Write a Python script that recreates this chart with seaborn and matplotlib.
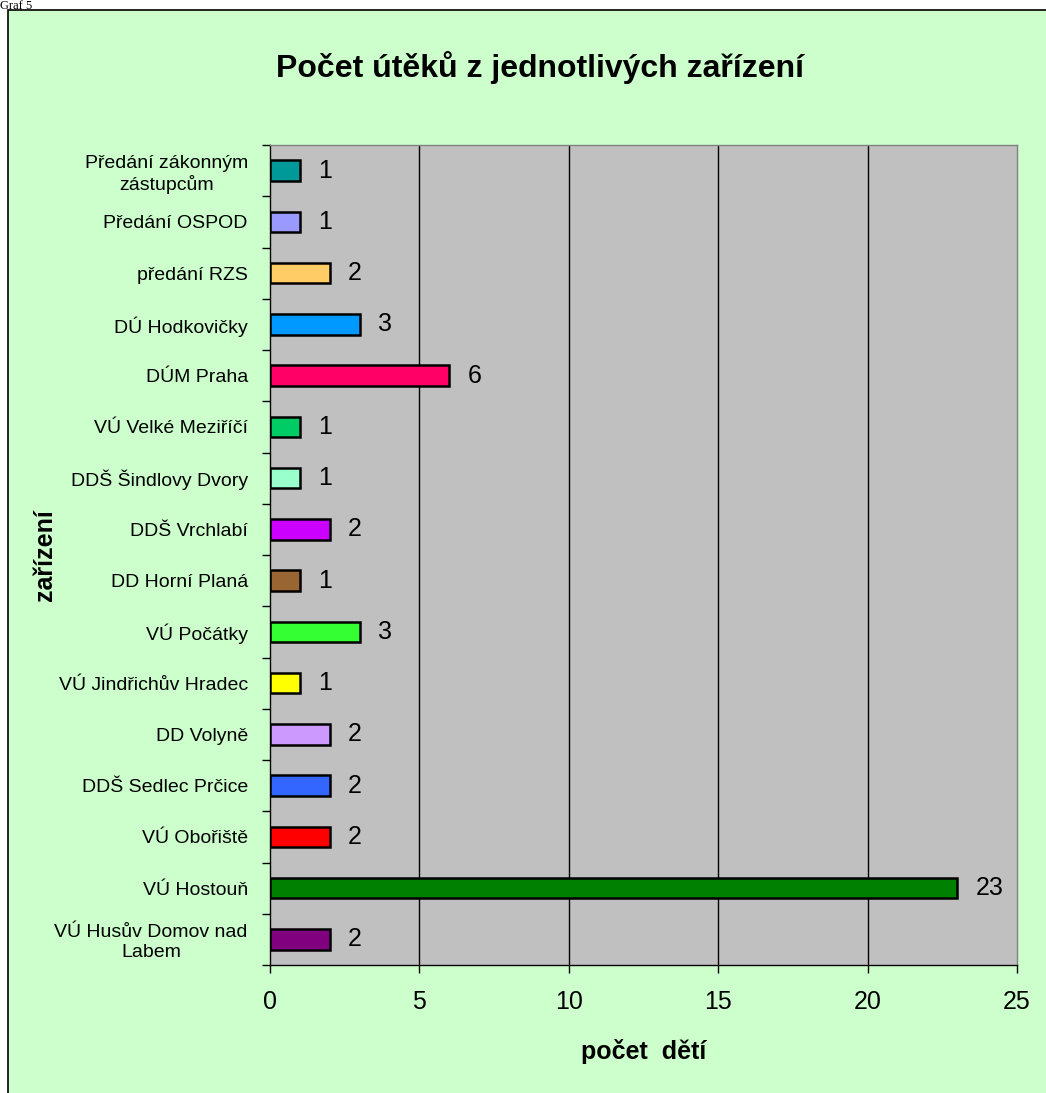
import numpy as np
import pandas as pd
import matplotlib
matplotlib.use("Agg")
import matplotlib.pyplot as plt
from matplotlib.patches import Rectangle
import seaborn as sns

# ------------------------------------------------------------------
# Données
# ------------------------------------------------------------------
zarizeni = [
    "Předání zákonným\nzástupcům",
    "Předání OSPOD",
    "předání RZS",
    "DÚ Hodkovičky",
    "DÚM Praha",
    "VÚ Velké Meziříčí",
    "DDŠ Šindlovy Dvory",
    "DDŠ Vrchlabí",
    "DD Horní Planá",
    "VÚ Počátky",
    "VÚ Jindřichův Hradec",
    "DD Volyně",
    "DDŠ Sedlec Prčice",
    "VÚ Obořiště",
    "VÚ Hostouň",
    "VÚ Husův Domov nad\nLabem",
]
pocet_deti = [1, 1, 2, 3, 6, 1, 1, 2, 1, 3, 1, 2, 2, 2, 23, 2]
barvy = [
    "#009999", "#9999FF", "#FFCC66", "#0099FF", "#FF0066", "#00CC66",
    "#99FFCC", "#CC00FF", "#996633", "#33FF33", "#FFFF00", "#CC99FF",
    "#3366FF", "#FF0000", "#008000", "#800080",
]
x_ticks = [0, 5, 10, 15, 20, 25]

df = pd.DataFrame({"zarizeni": zarizeni, "pocet": pocet_deti})

# ------------------------------------------------------------------
# Figure
# ------------------------------------------------------------------
sns.set_theme(style="ticks")
plt.rcParams["font.family"] = ["Liberation Sans", "DejaVu Sans"]
plt.rcParams["text.color"] = "black"
plt.rcParams["xtick.color"] = "black"
plt.rcParams["ytick.color"] = "black"
plt.rcParams["axes.labelcolor"] = "black"

fig = plt.figure(figsize=(10.46, 10.93), dpi=100)
fig.patch.set_facecolor("white")

# cadre vert du graphique
fig.patches.append(Rectangle((8 / 1046, -0.01), 1.0, 1 - 10 / 1093 + 0.01,
                             transform=fig.transFigure, facecolor="#CCFFCC",
                             edgecolor="black", linewidth=1.2, zorder=-5))
fig.text(0.0, 1 - 9 / 1093, "Graf 5", fontsize=9, family="Liberation Serif",
         va="baseline", ha="left")

ax = fig.add_axes([270 / 1046, 1 - 965 / 1093, 747 / 1046, 820 / 1093])
ax.set_facecolor("#C0C0C0")

sns.barplot(data=df, x="pocet", y="zarizeni", hue="zarizeni", palette=barvy,
            orient="h", width=0.4, saturation=1, edgecolor="black",
            linewidth=1.8, legend=False, ax=ax, zorder=3)

for cont in ax.containers:
    ax.bar_label(cont, padding=13, fontsize=18, color="black")

ax.set_xlim(0, 25)
ax.set_ylim(len(zarizeni) - 0.5, -0.5)
ax.set_xticks(x_ticks)
ax.set_xticklabels([str(v) for v in x_ticks], fontsize=18)
ax.tick_params(axis="x", length=6, width=1, color="black", pad=12)

ax.tick_params(axis="y", which="major", length=0, pad=16, labelsize=14)
ax.set_yticks(np.arange(-0.5, len(zarizeni), 1.0), minor=True)
ax.tick_params(axis="y", which="minor", length=6, width=1, color="black")
for lbl in ax.get_yticklabels():
    lbl.set_multialignment("center")

for v in x_ticks[1:-1]:
    ax.axvline(v, color="black", linewidth=1, zorder=1)

for s in ["left", "bottom"]:
    ax.spines[s].set_color("black")
    ax.spines[s].set_linewidth(1)
for s in ["top", "right"]:
    ax.spines[s].set_color("#808080")
    ax.spines[s].set_linewidth(1)

ax.set_xlabel("počet  dětí", fontsize=18, fontweight="bold", labelpad=18)
ax.set_ylabel("zařízení", fontsize=18, fontweight="bold")
ax.yaxis.set_label_coords(-0.285, 0.5)

fig.text(0.516, 1 - 68 / 1093, "Počet útěků z jednotlivých zařízení",
         fontsize=23, fontweight="bold", ha="center", va="center")

fig.savefig("out.png", dpi=100)
